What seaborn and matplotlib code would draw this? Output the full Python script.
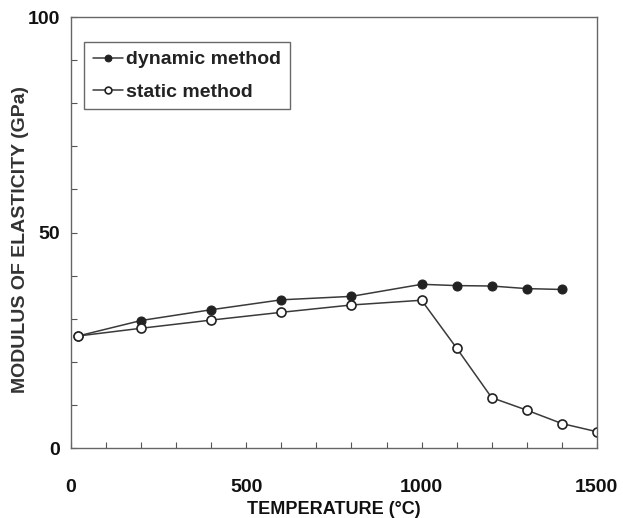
import matplotlib
matplotlib.use("Agg")
import matplotlib.pyplot as plt
import seaborn as sns
import pandas as pd
from matplotlib.ticker import MultipleLocator

temp_dynamic = [20, 200, 400, 600, 800, 1000, 1100, 1200, 1300, 1400]
mod_dynamic = [26.0, 29.6, 32.1, 34.4, 35.2, 38.0, 37.7, 37.6, 37.0, 36.8]
temp_static = [20, 200, 400, 600, 800, 1000, 1100, 1200, 1300, 1400, 1500]
mod_static = [26.0, 27.8, 29.7, 31.5, 33.2, 34.3, 23.2, 11.7, 8.8, 5.7, 3.8]
x_ticks = [0, 500, 1000, 1500]
y_ticks = [0, 50, 100]

sns.set_theme(style="ticks")
plt.rcParams['font.family'] = ['Liberation Sans', 'DejaVu Sans']

df_dyn = pd.DataFrame({"T": temp_dynamic, "E": mod_dynamic})
df_sta = pd.DataFrame({"T": temp_static, "E": mod_static})

fig = plt.figure(figsize=(6.23, 5.18), dpi=100)
ax = fig.add_axes([0.114, 0.135, 0.844, 0.832])

line_col = "#3a3a3a"
sns.lineplot(data=df_dyn, x="T", y="E", ax=ax, color=line_col, lw=1.1,
             marker="o", markersize=6.5, markerfacecolor="#222222",
             markeredgecolor="#222222", label="dynamic method")
sns.lineplot(data=df_sta, x="T", y="E", ax=ax, color=line_col, lw=1.1,
             marker="o", markersize=6.5, markerfacecolor="white",
             markeredgecolor="#222222", markeredgewidth=1.2,
             label="static method")

ax.set_xlim(0, 1500)
ax.set_ylim(0, 100)
ax.set_xticks(x_ticks)
ax.set_yticks(y_ticks)
ax.xaxis.set_minor_locator(MultipleLocator(100))
ax.yaxis.set_minor_locator(MultipleLocator(10))
ax.tick_params(which="both", direction="in", length=4, width=0.8, color="#555555")
ax.tick_params(which="major", labelsize=14, pad=8)
ax.tick_params(axis="x", which="major", pad=22)
for lab in ax.get_xticklabels() + ax.get_yticklabels():
    lab.set_fontweight("bold")
    lab.set_color("#111111")
for s in ax.spines.values():
    s.set_color("#666666")
    s.set_linewidth(1.0)

ax.set_xlabel("TEMPERATURE (°C)", fontsize=13, fontweight="bold", color="#111111", labelpad=4)
ax.set_ylabel("MODULUS OF ELASTICITY (GPa)", fontsize=14, fontweight="bold", color="#333333")
ax.yaxis.set_label_coords(-0.097, 0.483)
ax.yaxis.label.set_verticalalignment("center")

leg = ax.legend(loc="upper left", bbox_to_anchor=(0.025, 0.942), frameon=True,
                fancybox=False, edgecolor="#444444", prop={"weight": "bold", "size": 14},
                handlelength=1.55, handletextpad=0.15, borderpad=0.45, labelspacing=0.75,
                borderaxespad=0, markerscale=0.75)
leg.get_frame().set_linewidth(1.0)
for t in leg.get_texts():
    t.set_color("#222222")

fig.savefig("out.png", dpi=100, facecolor="white")
